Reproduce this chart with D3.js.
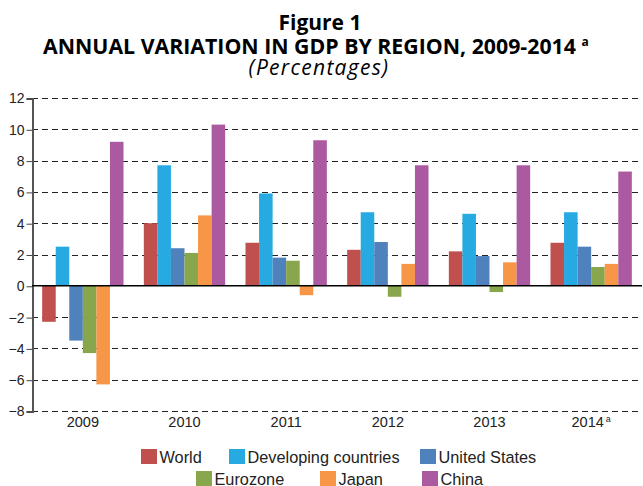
<!DOCTYPE html>
<html><head><meta charset="utf-8">
<script src="https://cdn.jsdelivr.net/npm/d3@7"></script>
<style>
html,body{margin:0;padding:0;background:#fff;}
svg{display:block;}
</style></head>
<body>
<svg id="chart" width="643" height="486"></svg>
<script>
const years = ["2009","2010","2011","2012","2013","2014"];
const yearSup = ["","","","","","a"];
const seriesNames = ["World","Developing countries","United States","Eurozone","Japan","China"];
const seriesColors = ["#C0504D","#27A9E1","#4F81BD","#88A64B","#F79646","#AB59A1"];
const world      = [-2.3, 4.0, 2.75, 2.3, 2.2, 2.75];
const developing = [2.5, 7.7, 5.9, 4.7, 4.6, 4.7];
const us         = [-3.5, 2.4, 1.8, 2.8, 1.9, 2.5];
const eurozone   = [-4.3, 2.1, 1.6, -0.7, -0.4, 1.2];
const japan      = [-6.3, 4.5, -0.6, 1.4, 1.5, 1.4];
const china      = [9.2, 10.3, 9.3, 7.7, 7.7, 7.3];
const yTicks = [-8,-6,-4,-2,0,2,4,6,8,10,12];

const seriesValues = [world, developing, us, eurozone, japan, china];
const svg = d3.select("#chart");

// Titles
svg.append("text").attr("x",320).attr("y",30).attr("text-anchor","middle")
  .attr("font-family","Open Sans").attr("font-weight","bold").attr("font-size",21).text("Figure 1");
const t2 = svg.append("text").attr("x",43).attr("y",54)
  .attr("font-family","Open Sans").attr("font-weight","bold").attr("font-size",21.3);
t2.append("tspan").text("ANNUAL VARIATION IN GDP BY REGION, 2009-2014 ");
t2.append("tspan").attr("font-size",12).attr("dy",-8).text("a");
svg.append("text").attr("x",319).attr("y",75).attr("text-anchor","middle")
  .attr("font-family","Open Sans").attr("font-style","italic").attr("font-size",21)
  .attr("letter-spacing",1.3).text("(Percentages)");

const pLeft = 32, pRight = 642, pTop = 98, pBottom = 411;
const y = d3.scaleLinear().domain([-8,12]).range([pBottom, pTop]);
const x0 = d3.scaleBand().domain(years).range([pLeft,pRight]).paddingInner(0.2).paddingOuter(0.1);
const x1 = d3.scaleBand().domain(seriesNames).range([0, x0.bandwidth()]);

// grid
svg.append("g").selectAll("line").data(yTicks.filter(d=>d!==0)).join("line")
  .attr("x1",pLeft).attr("x2",pRight).attr("y1",d=>Math.round(y(d))+0.5).attr("y2",d=>Math.round(y(d))+0.5)
  .attr("stroke","#222").attr("stroke-width",1).attr("stroke-dasharray","6,4");

// y axis
const yAxis = d3.axisLeft(y).tickValues(yTicks).tickSize(6).tickPadding(2).tickFormat(d3.format("d"));
const gy = svg.append("g").attr("transform",`translate(${pLeft+0.5},0.5)`).call(yAxis);
gy.select(".domain").attr("stroke","#555").attr("stroke-width",2);
gy.selectAll(".tick line").attr("stroke","#444");
gy.selectAll("text").attr("font-family","Liberation Sans").attr("font-size",14).attr("fill","#222");

// bars
const data = [];
years.forEach((yr,i)=>seriesNames.forEach((s,j)=>data.push({yr, s, v: seriesValues[j][i], c: seriesColors[j]})));
svg.append("g").selectAll("rect").data(data).join("rect")
  .attr("x",d=>x0(d.yr)+x1(d.s))
  .attr("width",x1.bandwidth())
  .attr("y",d=>y(Math.max(0,d.v)))
  .attr("height",d=>Math.abs(y(d.v)-y(0)))
  .attr("fill",d=>d.c);

// zero line
svg.append("line").attr("x1",pLeft).attr("x2",pRight).attr("y1",y(0)).attr("y2",y(0))
  .attr("stroke","#000").attr("stroke-width",1.5);

// x labels
const xl = svg.append("g").selectAll("text").data(years).join("text")
  .attr("x",d=>x0(d)+x0.bandwidth()/2).attr("y",427).attr("text-anchor","middle")
  .attr("font-family","Liberation Sans").attr("font-size",14.5).attr("fill","#222");
xl.append("tspan").text(d=>d);
xl.append("tspan").attr("font-size",9).attr("dy",-5).attr("dx",2).text((d,i)=>yearSup[i]);

// legend
const legendPos = [[141,449],[229,449],[420,449],[196,471],[320,471],[422,471]];
const lg = svg.append("g").selectAll("g").data(seriesNames).join("g")
  .attr("transform",(d,i)=>`translate(${legendPos[i][0]},${legendPos[i][1]})`);
lg.append("rect").attr("width",16).attr("height",15).attr("fill",(d,i)=>seriesColors[i]);
lg.append("text").attr("x",18.5).attr("y",14).attr("font-family","Liberation Sans").attr("font-size",16.3)
  .attr("fill","#222").text(d=>d);
</script>
</body></html>
